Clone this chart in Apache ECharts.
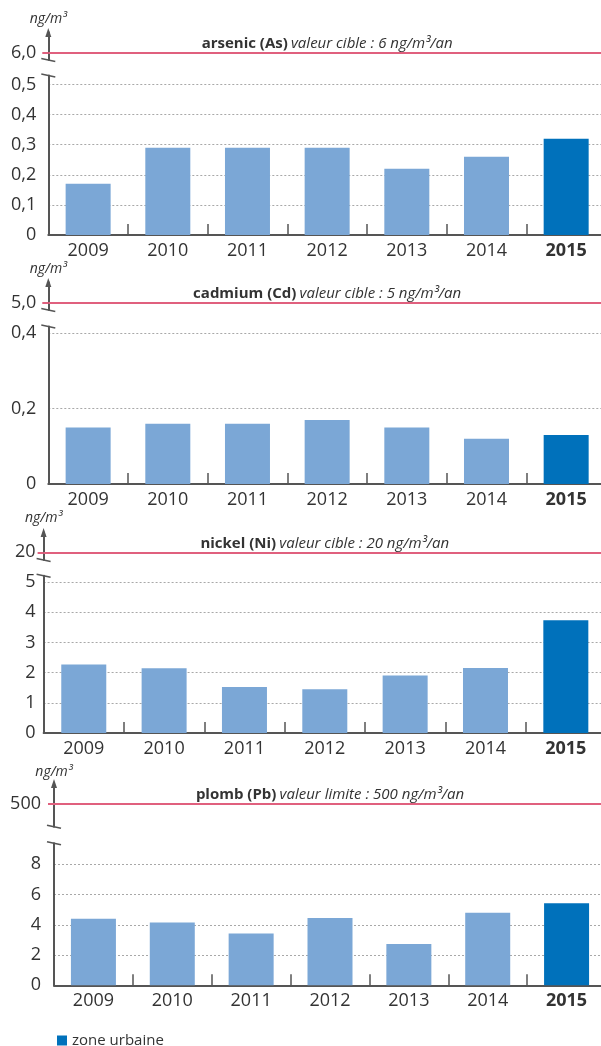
<!DOCTYPE html>
<html>
<head>
<meta charset="utf-8">
<script src="https://cdn.jsdelivr.net/npm/echarts@6/dist/echarts.min.js"></script>
<style>
  html, body { margin: 0; padding: 0; background: #fff; }
  #chart { width: 601px; height: 1046px; }
</style>
</head>
<body>
<div id="chart"></div>
<script>
// Annual mean concentrations of metals in PM10 (ng/m³), urban station
const years = ['2009', '2010', '2011', '2012', '2013', '2014', '2015'];
const arsenic = [0.17, 0.29, 0.29, 0.29, 0.22, 0.26, 0.32];
const cadmium = [0.15, 0.16, 0.16, 0.17, 0.15, 0.12, 0.13];
const nickel = [2.27, 2.14, 1.52, 1.45, 1.9, 2.15, 3.73];
const plomb = [4.4, 4.15, 3.42, 4.45, 2.73, 4.8, 5.43];

const pollutantNames = ['arsenic (As)', 'cadmium (Cd)', 'nickel (Ni)', 'plomb (Pb)'];
const thresholdKinds = ['valeur cible', 'valeur cible', 'valeur cible', 'valeur limite'];
const thresholds = [6, 5, 20, 500];
const axisTop = [0.5, 0.4, 5, 8];
const axisStep = [0.1, 0.2, 1, 2];
const labelDecimals = [1, 1, 0, 0];
const unitLabel = 'ng/m³';
const legendLabel = 'zone urbaine';

const panelValues = [arsenic, cadmium, nickel, plomb];

// Pixel frame of each panel: axis x, arrow tip, threshold line, axis breaks,
// top gridline, baseline, label margin, unit label centre
const frames = [
  { left: 48.3, tip: 28,  red: 52.5,  up: 60,    low: 75.5,  top: 84.5,  base: 235,   margin: 12, unitY: 19 },
  { left: 48.3, tip: 278, red: 302.7, up: 310,   low: 326.5, top: 333.3, base: 484,   margin: 12, unitY: 269 },
  { left: 43.6, tip: 528, red: 552.3, up: 560,   low: 575.7, top: 582,   base: 733,   margin: 8,  unitY: 518 },
  { left: 54,   tip: 779, red: 804,   up: 826.7, low: 843.3, top: 864.3, base: 985.3, margin: 13, unitY: 772 }
];
const plotRight = 606;
const arrowH = 9;

const FONT = 'Open Sans';
const TEXT = '#333333';
const AXIS = '#555555';
const LIGHT = '#7ba7d6';
const DARK = '#0071bb';
const RED = '#e0607e';

function fmt(v, d) {
  if (v === 0) return '0';
  return v.toFixed(d).replace('.', ',');
}

const grids = [], xAxes = [], yAxes = [], series = [], graphics = [];

frames.forEach((f, i) => {
  const width = plotRight - f.left;
  const upperTop = f.tip + arrowH / 2;
  const limit = thresholds[i];
  const upperMax = limit * (f.up - upperTop) / (f.up - f.red);
  const lowerMax = axisTop[i] * (f.base - f.low) / (f.base - f.top);

  // lower grid: the measured values
  grids.push({ left: f.left, top: f.low, width: width, height: f.base - f.low, outerBoundsMode: 'none' });
  // upper grid: the regulatory threshold
  grids.push({ left: f.left, top: upperTop, width: width, height: f.up - upperTop, outerBoundsMode: 'none' });

  xAxes.push({
    type: 'category', gridIndex: 2 * i, data: years, boundaryGap: true,
    axisLine: { show: true, lineStyle: { color: AXIS, width: 2 } },
    axisTick: { show: true, inside: true, length: 11, lineStyle: { color: AXIS, width: 1.5 } },
    axisLabel: {
      margin: 7, interval: 0,
      formatter: (v, idx) => idx === years.length - 1 ? '{b|' + v + '}' : '{n|' + v + '}',
      rich: {
        n: { fontFamily: FONT, fontSize: 18, color: TEXT },
        b: { fontFamily: FONT, fontSize: 18, color: TEXT, fontWeight: 'bold' }
      }
    },
    splitLine: { show: false }
  });
  xAxes.push({ type: 'category', gridIndex: 2 * i + 1, data: years, show: false });

  yAxes.push({
    type: 'value', gridIndex: 2 * i, min: 0, max: lowerMax, interval: axisStep[i],
    axisLine: { show: true, lineStyle: { color: AXIS, width: 2 } },
    axisTick: { show: false },
    axisLabel: {
      margin: f.margin, fontFamily: FONT, fontSize: 18, color: TEXT,
      showMaxLabel: false,
      formatter: v => (v <= axisTop[i] + 1e-9 ? fmt(v, labelDecimals[i]) : '')
    },
    splitLine: {
      show: true, showMinLine: false, showMaxLine: false,
      lineStyle: { color: '#a8a8a8', width: 1, type: [2, 2] }
    }
  });
  yAxes.push({
    type: 'value', gridIndex: 2 * i + 1, min: 0, max: upperMax,
    name: unitLabel, nameLocation: 'end', nameGap: upperTop - f.unitY,
    nameTextStyle: { fontFamily: FONT, fontSize: 14, fontStyle: 'italic', color: TEXT, align: 'center', verticalAlign: 'middle' },
    axisLine: { show: true, symbol: ['none', 'triangle'], symbolSize: [6, arrowH], lineStyle: { color: AXIS, width: 2 } },
    axisTick: { show: true, customValues: [limit], length: 6, lineStyle: { color: RED, width: 2 } },
    axisLabel: {
      customValues: [limit], margin: f.margin, fontFamily: FONT, fontSize: 18, color: TEXT,
      formatter: v => (Math.abs(v - limit) < 1e-9 ? fmt(limit, labelDecimals[i]) : '')
    },
    splitLine: { show: false }
  });

  series.push({
    type: 'bar', name: legendLabel, xAxisIndex: 2 * i, yAxisIndex: 2 * i,
    barWidth: 45, itemStyle: { color: DARK },
    data: panelValues[i].map((v, k) => ({
      value: v,
      itemStyle: { color: k === years.length - 1 ? DARK : LIGHT }
    })),
    silent: true
  });
  series.push({
    type: 'line', name: 'seuil ' + i, xAxisIndex: 2 * i + 1, yAxisIndex: 2 * i + 1,
    data: [], symbol: 'none', silent: true,
    markLine: {
      silent: true, symbol: 'none', animation: false,
      lineStyle: { color: RED, width: 2, type: 'solid' },
      label: {
        show: true, position: 'insideMiddleTop', distance: 0,
        formatter: '{b|' + pollutantNames[i] + '} {i|' + thresholdKinds[i] + ' : ' + limit + ' ' + unitLabel + '/an}',
        rich: {
          b: { fontFamily: FONT, fontSize: 15, fontWeight: 'bold', color: TEXT, lineHeight: 18 },
          i: { fontFamily: FONT, fontSize: 15, fontStyle: 'italic', color: TEXT, lineHeight: 18 }
        }
      },
      emphasis: { disabled: true },
      data: [{ yAxis: limit }]
    }
  });

  // axis break strokes between the threshold part and the value part
  [f.up, f.low].forEach(y => {
    graphics.push({
      type: 'line', silent: true,
      shape: { x1: f.left - 7, y1: y - 1.5, x2: f.left + 7, y2: y + 1.5 },
      style: { stroke: AXIS, lineWidth: 1.5 }
    });
  });
});

const chart = echarts.init(document.getElementById('chart'), null, { renderer: 'canvas' });
chart.setOption({
  animation: false,
  backgroundColor: '#ffffff',
  textStyle: { fontFamily: FONT },
  grid: grids,
  xAxis: xAxes,
  yAxis: yAxes,
  series: series,
  graphic: graphics,
  legend: {
    data: [legendLabel], left: 52, top: 1028,
    icon: 'rect', itemWidth: 10, itemHeight: 10,
    selectedMode: false,
    textStyle: { fontFamily: FONT, fontSize: 15, color: TEXT }
  },
  tooltip: { show: false }
});
</script>
</body>
</html>
